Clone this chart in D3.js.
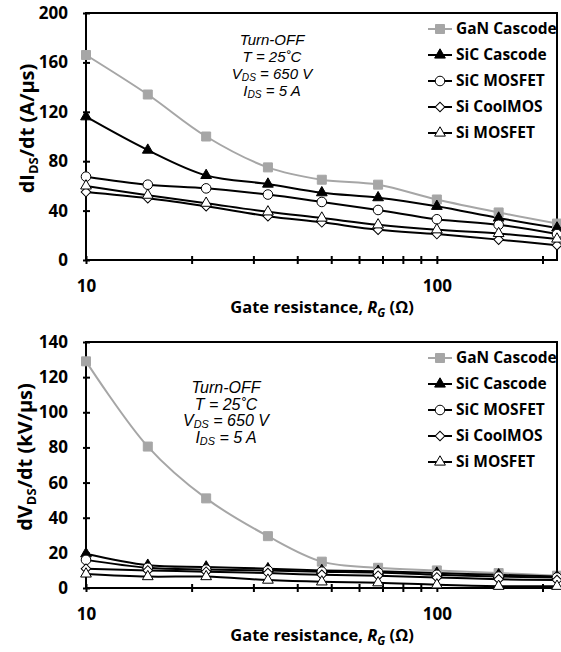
<!DOCTYPE html>
<html>
<head>
<meta charset="UTF-8">
<title>Turn-OFF dI/dt and dV/dt vs gate resistance</title>
<script src="https://cdn.jsdelivr.net/npm/d3@7/dist/d3.min.js"></script>
<style>
    body { margin: 0; background: #fff; }
    svg { display: block; }
    .tick-label { font-family: "Open Sans", Lato, sans-serif; font-weight: bold; font-size: 17px; fill: #000; }
    .axis-title { font-family: "Open Sans", Lato, sans-serif; font-weight: bold; fill: #000; }
    .legend-text { font-family: "Open Sans", Lato, sans-serif; font-weight: bold; font-size: 15.5px; fill: #000; }
    .note { font-family: "Liberation Sans", Arial, sans-serif; font-style: italic; fill: #000; }
</style>
</head>
<body>
<script>
    // gate resistance values (ohm)
    const gateResistance = [10, 15, 22, 33, 47, 68, 100, 150, 220];
    const seriesNames = ["GaN Cascode", "SiC Cascode", "SiC MOSFET", "Si CoolMOS", "Si MOSFET"];

    // dI_DS/dt, A/us
    const didtGaNCascode = [166, 134, 100, 75, 65, 61, 49, 38.5, 29.5];
    const didtSiCCascode = [116, 89, 68.5, 61.5, 54.5, 50.5, 43.5, 34, 26];
    const didtSiCMosfet  = [67.5, 61, 58, 53, 47, 40.5, 33, 28.5, 21];
    const didtSiCoolMOS  = [55, 50, 43.5, 35.5, 30.5, 24.5, 21, 16.5, 12];
    const didtSiMosfet   = [60, 52.5, 46, 39, 34, 28.5, 24.5, 21.5, 17];

    // dV_DS/dt, kV/us
    const dvdtGaNCascode = [129, 80.5, 51, 29.5, 15, 11.5, 10, 8.5, 7];
    const dvdtSiCCascode = [19.5, 13, 12, 11, 10, 9.5, 8.5, 7.5, 6.5];
    const dvdtSiCMosfet  = [16, 11.5, 10.5, 10, 9.3, 8.8, 7.5, 6.5, 6];
    const dvdtSiCoolMOS  = [11, 10, 9.3, 8.5, 7.5, 7, 6, 5, 4.5];
    const dvdtSiMosfet   = [8, 6.5, 6.5, 4.5, 3.5, 3, 1.8, 1, 1];

    const xTickMajor = [10, 100];
    const xTickMinor = [20, 30, 40, 50, 60, 70, 80, 90, 200];
    const didtTicks = [0, 40, 80, 120, 160, 200];
    const dvdtTicks = [0, 20, 40, 60, 80, 100, 120, 140];

    const width = 561, height = 652;
    const plotLeft = 86, plotRight = 557;

    const svg = d3.select("body").append("svg")
        .attr("width", width)
        .attr("height", height);

    const xScale = d3.scaleLog().domain([10, 220]).range([plotLeft, plotRight]);

    // one style per series, same order as seriesNames
    const styles = [
        {line: "#a6a6a6", symbol: d3.symbolSquare, size: 81, fill: "#a6a6a6", stroke: "#a6a6a6", rotate: 0},
        {line: "#000", symbol: d3.symbolTriangle, size: 50, fill: "#000", stroke: "#000", rotate: 0},
        {line: "#000", symbol: d3.symbolCircle, size: 72, fill: "#fff", stroke: "#000", rotate: 0},
        {line: "#000", symbol: d3.symbolSquare, size: 46, fill: "#fff", stroke: "#000", rotate: 45},
        {line: "#000", symbol: d3.symbolTriangle, size: 50, fill: "#fff", stroke: "#000", rotate: 0}
    ];

    function drawPanel(opts) {
        const {top, bottom, yMax, yTicks, series, yTitle, yUnit, note} = opts;
        const yScale = d3.scaleLinear().domain([0, yMax]).range([bottom, top]);
        const g = svg.append("g");

        // frame
        g.append("rect")
            .attr("x", plotLeft).attr("y", top)
            .attr("width", plotRight - plotLeft).attr("height", bottom - top)
            .attr("fill", "none").attr("stroke", "#000").attr("stroke-width", 2);

        // y axis
        const yAxis = d3.axisLeft(yScale).tickValues(yTicks).tickSize(4).tickPadding(14).tickFormat(d3.format("d"));
        const ya = g.append("g").attr("transform", `translate(${plotLeft},0)`).call(yAxis);
        ya.select(".domain").remove();
        ya.selectAll(".tick line").attr("stroke", "#000").attr("stroke-width", 2).attr("x2", 4).attr("x1", -3);
        ya.selectAll(".tick text").attr("class", "tick-label").attr("font-size", null).attr("font-family", null).attr("fill", null);

        // x axis, log ticks crossing the line
        const xAxis = d3.axisBottom(xScale).tickValues(xTickMajor.concat(xTickMinor)).tickSize(4)
            .tickFormat(d => xTickMajor.includes(d) ? d : "");
        const xa = g.append("g").attr("transform", `translate(0,${bottom})`).call(xAxis);
        xa.select(".domain").remove();
        xa.selectAll(".tick line").attr("stroke", "#000").attr("stroke-width", 2).attr("y1", -4).attr("y2", 4);
        xa.selectAll(".tick text").attr("class", "tick-label").attr("font-size", null).attr("font-family", null)
            .attr("fill", null).attr("y", 20);

        // smoothed curves
        const line = d3.line()
            .x((d, i) => xScale(gateResistance[i]))
            .y(d => yScale(d))
            .curve(d3.curveCatmullRom.alpha(0.5));

        // GaN first so it sits behind the black series
        series.forEach((values, k) => {
            g.append("path")
                .datum(values)
                .attr("fill", "none")
                .attr("stroke", styles[k].line)
                .attr("stroke-width", 2)
                .attr("d", line);
        });
        series.forEach((values, k) => {
            const s = styles[k];
            g.selectAll(null)
                .data(values)
                .enter()
                .append("path")
                .attr("d", d3.symbol().type(s.symbol).size(s.size))
                .attr("transform", (d, i) => `translate(${xScale(gateResistance[i])},${yScale(d)}) rotate(${s.rotate})`)
                .attr("fill", s.fill)
                .attr("stroke", s.stroke)
                .attr("stroke-width", 1);
        });

        // legend
        const legend = g.append("g").attr("transform", `translate(428,${top + 16})`);
        seriesNames.forEach((name, k) => {
            const s = styles[k];
            const row = legend.append("g").attr("transform", `translate(0,${k * 26})`);
            row.append("line").attr("x1", 0).attr("x2", 24).attr("y1", 0).attr("y2", 0)
                .attr("stroke", s.line).attr("stroke-width", 2);
            row.append("path")
                .attr("d", d3.symbol().type(s.symbol).size(s.size))
                .attr("transform", `translate(12,0) rotate(${s.rotate})`)
                .attr("fill", s.fill).attr("stroke", s.stroke).attr("stroke-width", 1);
            row.append("text").attr("class", "legend-text")
                .attr("x", 28).attr("y", 0).attr("dy", "0.35em")
                .text(name);
        });

        // condition note, one text per line
        note.lines.forEach((ln, i) => {
            const t = g.append("text").attr("class", "note")
                .attr("font-size", note.size)
                .attr("text-anchor", "middle")
                .attr("x", note.x).attr("y", note.y + i * note.step);
            ln.forEach(part => {
                if (part.sub) {
                    t.append("tspan").attr("baseline-shift", "-2").attr("font-size", "68%").text(part.sub);
                } else {
                    t.append("tspan").text(part.t);
                }
            });
        });

        // y title
        const yt = g.append("text").attr("class", "axis-title")
            .attr("font-size", 20)
            .attr("text-anchor", "middle")
            .attr("transform", `translate(${opts.yTitleX},${(top + bottom) / 2 - 8}) rotate(-90)`);
        yt.append("tspan").text("d" + yTitle);
        yt.append("tspan").attr("baseline-shift", "-4").attr("font-size", "65%").text("DS");
        yt.append("tspan").text("/dt (" + yUnit + ")");

        // x title
        const xt = g.append("text").attr("class", "axis-title")
            .attr("font-size", 16.5)
            .attr("text-anchor", "middle")
            .attr("x", 322).attr("y", bottom + 53);
        xt.append("tspan").text("Gate resistance, ");
        xt.append("tspan").attr("font-style", "italic").text("R");
        xt.append("tspan").attr("font-style", "italic").attr("baseline-shift", "-4").attr("font-size", "70%").text("G");
        xt.append("tspan").text(" (Ω)");
    }

    const noteLines = [
        [{t: "Turn-OFF"}],
        [{t: "T = 25˚C"}],
        [{t: "V"}, {sub: "DS"}, {t: " = 650 V"}],
        [{t: "I"}, {sub: "DS"}, {t: " = 5 A"}]
    ];

    drawPanel({
        top: 13, bottom: 260, yMax: 200, yTicks: didtTicks,
        series: [didtGaNCascode, didtSiCCascode, didtSiCMosfet, didtSiCoolMOS, didtSiMosfet],
        yTitle: "I", yUnit: "A/µs", yTitleX: 34,
        note: {x: 272, y: 45, step: 17, size: 15, lines: noteLines}
    });

    drawPanel({
        top: 342, bottom: 588, yMax: 140, yTicks: dvdtTicks,
        series: [dvdtGaNCascode, dvdtSiCCascode, dvdtSiCMosfet, dvdtSiCoolMOS, dvdtSiMosfet],
        yTitle: "V", yUnit: "kV/µs", yTitleX: 32,
        note: {x: 226, y: 393, step: 16.7, size: 16, lines: noteLines}
    });
</script>
</body>
</html>
